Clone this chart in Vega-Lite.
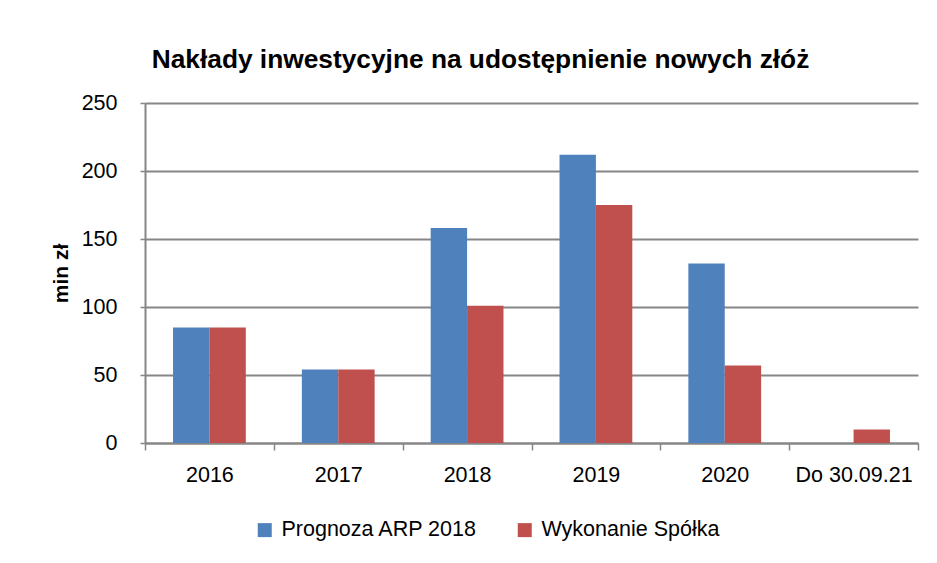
{
  "$schema": "https://vega.github.io/schema/vega-lite/v6.json",
  "width": 773,
  "height": 340,
  "autosize": "none",
  "padding": {"left": 145, "top": 103, "right": 19, "bottom": 120},
  "background": "white",
  "title": {
    "text": "Nakłady inwestycyjne na udostępnienie nowych złóż",
    "font": "Liberation Sans",
    "fontSize": 26.3,
    "fontWeight": "bold",
    "color": "#000000",
    "anchor": "middle",
    "dx": -51,
    "baseline": "alphabetic",
    "offset": -2
  },
  "data": {
    "values": [
      {"rok": "2016", "seria": "Prognoza ARP 2018", "wartosc": 85},
      {"rok": "2016", "seria": "Wykonanie Spółka", "wartosc": 85},
      {"rok": "2017", "seria": "Prognoza ARP 2018", "wartosc": 54},
      {"rok": "2017", "seria": "Wykonanie Spółka", "wartosc": 54},
      {"rok": "2018", "seria": "Prognoza ARP 2018", "wartosc": 158},
      {"rok": "2018", "seria": "Wykonanie Spółka", "wartosc": 101},
      {"rok": "2019", "seria": "Prognoza ARP 2018", "wartosc": 212},
      {"rok": "2019", "seria": "Wykonanie Spółka", "wartosc": 175},
      {"rok": "2020", "seria": "Prognoza ARP 2018", "wartosc": 132},
      {"rok": "2020", "seria": "Wykonanie Spółka", "wartosc": 57},
      {"rok": "Do 30.09.21", "seria": "Wykonanie Spółka", "wartosc": 10}
    ]
  },
  "mark": {"type": "bar"},
  "encoding": {
    "x": {
      "field": "rok",
      "type": "nominal",
      "sort": null,
      "scale": {"paddingInner": 0, "paddingOuter": 0},
      "axis": {
        "title": null,
        "labelAngle": 0,
        "labelFont": "Liberation Sans",
        "labelFontSize": 21.5,
        "labelColor": "#000000",
        "labelPadding": 14,
        "tickBand": "extent",
        "tickSize": 7,
        "tickColor": "#868686",
        "tickWidth": 1.5,
        "domainColor": "#868686",
        "domainWidth": 2,
        "grid": false
      }
    },
    "xOffset": {
      "field": "seria",
      "type": "nominal",
      "sort": ["Prognoza ARP 2018", "Wykonanie Spółka"],
      "scale": {"domain": ["Prognoza ARP 2018", "Wykonanie Spółka"], "paddingInner": 0, "paddingOuter": 0.77}
    },
    "y": {
      "field": "wartosc",
      "type": "quantitative",
      "scale": {"domain": [0, 250], "nice": false},
      "axis": {
        "title": "min zł",
        "titleFont": "Liberation Sans",
        "titleFontSize": 21,
        "titleFontWeight": "bold",
        "titleColor": "#000000",
        "titlePadding": 10,
        "values": [0, 50, 100, 150, 200, 250],
        "labelFont": "Liberation Sans",
        "labelFontSize": 21.5,
        "labelColor": "#000000",
        "labelPadding": 23,
        "tickSize": 5,
        "tickColor": "#868686",
        "tickWidth": 1.5,
        "domainColor": "#868686",
        "domainWidth": 2,
        "gridColor": "#868686",
        "gridWidth": 2
      }
    },
    "color": {
      "field": "seria",
      "type": "nominal",
      "scale": {"domain": ["Prognoza ARP 2018", "Wykonanie Spółka"], "range": ["#4F81BD", "#C0504D"]},
      "legend": {
        "title": null,
        "orient": "none",
        "direction": "horizontal",
        "legendX": 109,
        "legendY": 416,
        "padding": 0,
        "symbolType": "square",
        "symbolSize": 196,
        "symbolStrokeWidth": 0,
        "labelFont": "Liberation Sans",
        "labelFontSize": 21.5,
        "labelColor": "#000000",
        "labelOffset": 6,
        "labelLimit": 400,
        "columnPadding": 36
      }
    }
  },
  "config": {
    "view": {"stroke": null}
  }
}
